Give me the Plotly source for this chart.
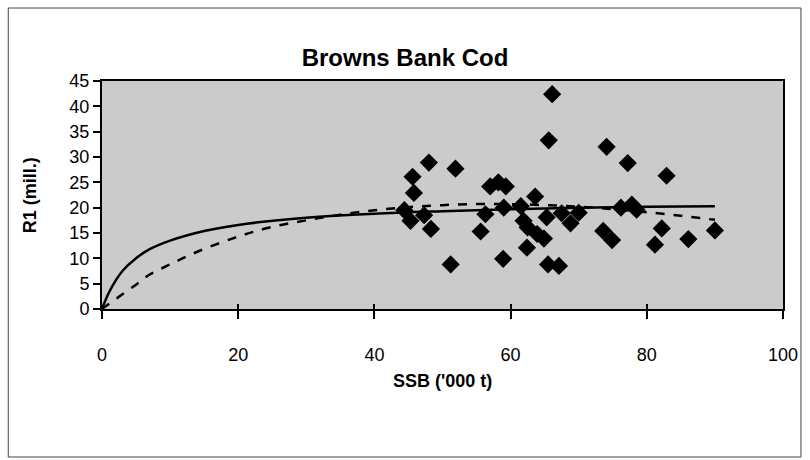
import plotly.graph_objects as go

# Observed stock-recruit points (SSB '000 t, R1 millions)
ssb = [66.1, 65.6, 74.1, 77.2, 48.0, 51.9, 82.9, 45.6, 45.8, 57.0, 58.2, 59.3,
       63.6, 44.4, 45.3, 47.3, 48.3, 51.2, 55.6, 56.3, 59.0, 61.5, 61.9, 62.5,
       63.9, 64.9, 62.4, 58.9, 65.3, 67.5, 68.8, 70.0, 65.5, 67.1, 73.6, 74.9,
       76.2, 77.8, 78.5, 82.2, 81.2, 86.1, 90.0]
r1 = [42.4, 33.3, 32.0, 28.8, 28.9, 27.7, 26.3, 26.1, 22.9, 24.2, 25.0, 24.2,
      22.2, 19.5, 17.4, 18.5, 15.8, 8.8, 15.3, 18.7, 20.0, 20.3, 17.4, 16.1,
      14.8, 13.9, 12.1, 9.9, 18.1, 18.9, 16.9, 19.0, 8.8, 8.5, 15.4, 13.6,
      20.0, 20.6, 19.6, 15.9, 12.7, 13.8, 15.5]

# Fitted curves
curve_x = [0, 1, 2, 3, 5, 7, 10, 15, 20, 30, 40, 50, 60, 70, 80, 90]
solid_y = [0, 3.2, 5.6, 7.5, 10.0, 11.8, 13.5, 15.4, 16.6, 18.0, 18.8, 19.3,
           19.7, 20.0, 20.2, 20.3]
dash_x = [0, 1, 3, 5, 7, 10, 14, 20, 25, 30, 35, 40, 45, 50, 55, 60, 65, 70,
          75, 80, 85, 90]
dash_y = [0, 1.0, 2.9, 4.8, 6.8, 8.8, 11.3, 14.3, 16.2, 17.5, 18.6, 19.5, 20.1,
          20.5, 20.7, 20.7, 20.5, 20.2, 19.7, 19.1, 18.4, 17.6]

x_ticks = [0, 20, 40, 60, 80, 100]
y_ticks = [0, 5, 10, 15, 20, 25, 30, 35, 40, 45]

FONT = "Liberation Sans Narrow, Arial Narrow, Liberation Sans, Arial, sans-serif"

fig = go.Figure()
fig.add_trace(go.Scatter(x=ssb, y=r1, mode="markers",
                         marker=dict(symbol="diamond", size=14, color="black"),
                         showlegend=False, hoverinfo="skip"))
fig.add_trace(go.Scatter(x=curve_x, y=solid_y, mode="lines",
                         line=dict(color="black", width=2.5, shape="spline"),
                         showlegend=False))
fig.add_trace(go.Scatter(x=dash_x, y=dash_y, mode="lines",
                         line=dict(color="black", width=2.5, dash="dash", shape="spline"),
                         showlegend=False))
# invisible trace for the inner tick axis
fig.add_trace(go.Scatter(x=[0], y=[0], xaxis="x2", mode="markers",
                         marker=dict(opacity=0), showlegend=False, hoverinfo="skip"))

L, R, T, B = 102, 25, 81, 151
pw, ph = 810 - L - R, 460 - T - B

def px(xp):
    return (xp - L) / pw

def py(yp):
    return (460 - B - yp) / ph

fig.update_layout(
    width=810, height=460,
    margin=dict(l=L, r=R, t=T, b=B),
    paper_bgcolor="white",
    plot_bgcolor="#cbcbcb",
    font=dict(family=FONT, color="black", size=18),
    title=dict(text="<b>Browns Bank Cod</b>", x=0.5, xref="container", xanchor="center",
               y=1 - 58 / 460, yref="container", yanchor="middle",
               font=dict(family=FONT, size=24, color="black")),
    xaxis=dict(range=[0, 100], tickvals=x_ticks, ticks="outside", ticklen=8, tickwidth=1.5,
               tickcolor="black", showline=True, linecolor="black", linewidth=2, mirror=True,
               showgrid=False, zeroline=False, tickfont=dict(size=18), ticklabelstandoff=20),
    xaxis2=dict(range=[0, 100], overlaying="x", matches="x", tickvals=x_ticks, ticks="inside",
                ticklen=5, tickwidth=1.5, tickcolor="black", showticklabels=False,
                showgrid=False, zeroline=False, showline=False),
    yaxis=dict(range=[0, 45], tickvals=y_ticks, ticks="outside", ticklen=7, tickwidth=1.5,
               tickcolor="black", showline=True, linecolor="black", linewidth=2, mirror=True,
               showgrid=False, zeroline=False, tickfont=dict(size=18)),
    annotations=[
        dict(text="<b>SSB ('000 t)</b>", xref="paper", yref="paper", x=0.5, y=py(381),
             showarrow=False, xanchor="center", yanchor="middle", font=dict(size=18)),
        dict(text="<b>R1 (mill.)</b>", xref="paper", yref="paper", x=px(30), y=0.5,
             showarrow=False, textangle=-90, xanchor="center", yanchor="middle",
             font=dict(size=18)),
    ],
    shapes=[
        dict(type="rect", xref="paper", yref="paper", x0=px(8), x1=px(803),
             y0=py(457), y1=py(8), line=dict(color="#444444", width=1), layer="below"),
    ],
)

fig.write_html("out.html", config={"displayModeBar": False},
               post_script="document.body.style.margin='0';")
